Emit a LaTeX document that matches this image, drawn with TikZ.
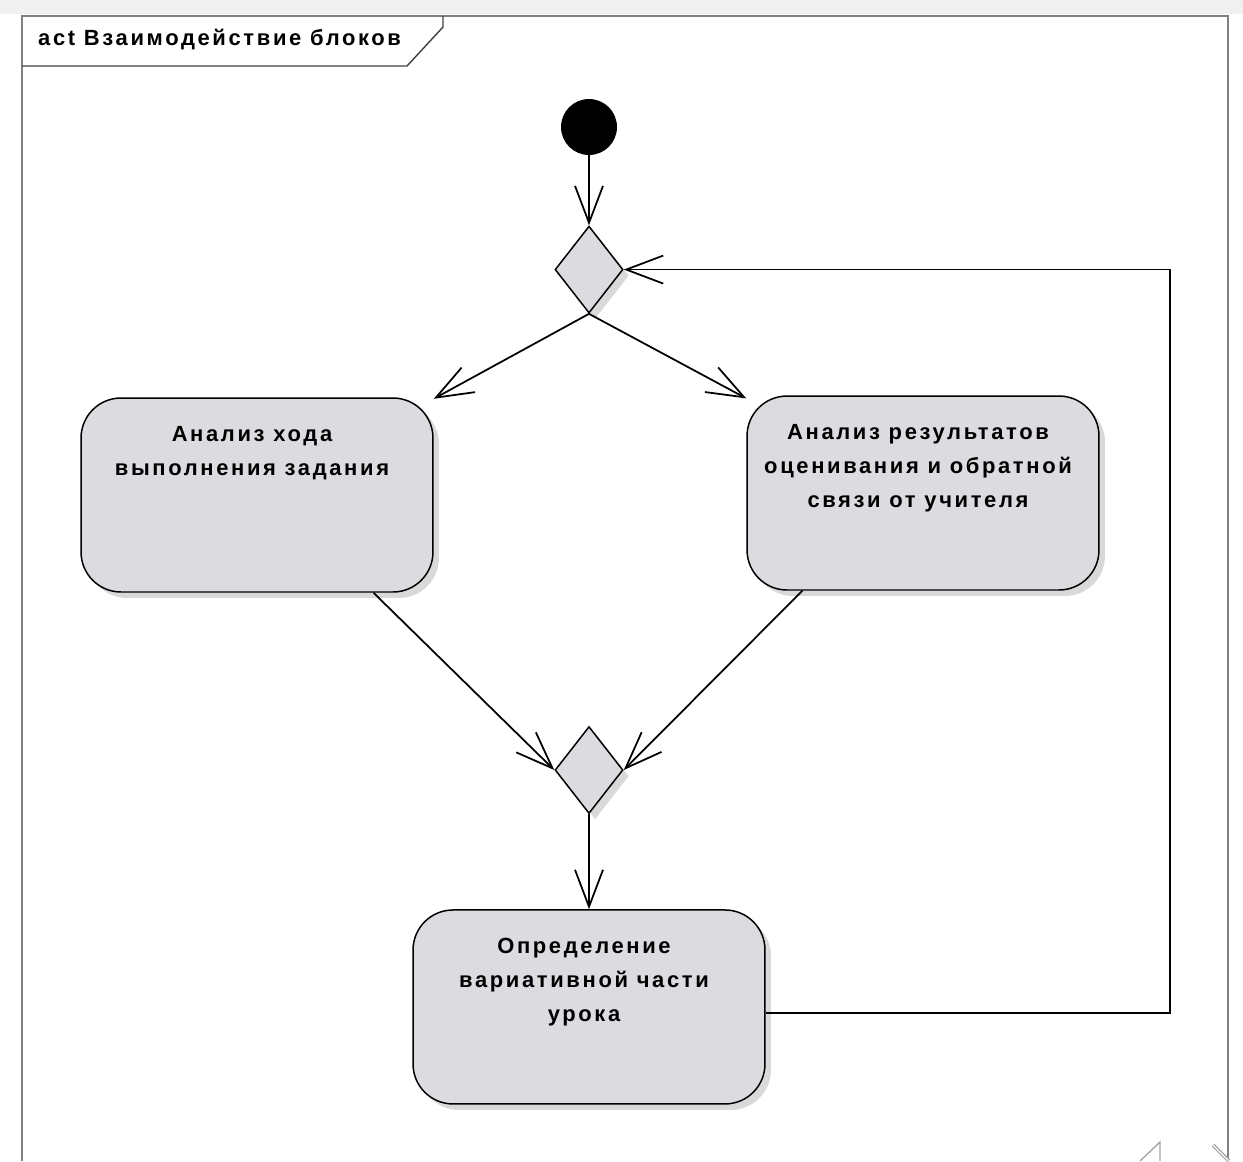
\documentclass[tikz,border=0pt]{standalone}
\usepackage{fontspec}
\setmainfont{Liberation Sans}[LetterSpace=12]
\usetikzlibrary{positioning,shapes.geometric,shadows,arrows.meta}
\definecolor{actgray}{RGB}{220,220,224}
\definecolor{framegray}{RGB}{128,128,128}
\tikzset{basic/.style={draw,line width=0.85pt,fill=actgray,drop shadow={shadow xshift=0.12cm,shadow yshift=-0.12cm,fill=black!15,opacity=1}}}
\tikzset{activity/.style={basic,rounded corners=0.8cm,minimum width=7.04cm,minimum height=3.88cm,inner sep=0pt,font=\bfseries\fontsize{12.5}{19.3}\selectfont}}
\tikzset{decision/.style={basic,diamond,minimum width=1.36cm,minimum height=1.74cm,inner sep=0pt}}
\tikzset{initial/.style={circle,fill=black,minimum size=1.12cm,inner sep=0pt}}
\tikzset{flow/.style={draw,line width=1pt,-{Straight Barb[length=0.74cm,width=0.56cm,line width=1pt]}}}
\newcommand{\acttext}[1]{\hspace*{-0.2cm}\parbox[c][2.74cm][t]{6.9cm}{\centering #1}}

\begin{document}
\begin{tikzpicture}[x=0.02cm,y=-0.02cm]
        \useasboundingbox (0,0) rectangle (1243,1161);
        \fill[black!6] (0,0) rectangle (1243,14);
        \draw[framegray,line width=1pt] (22,1161) -- (22,16) -- (1228,16) -- (1228,1161);
        \draw[black!75,line width=0.8pt] (22,66) -- (407,66) -- (443,27) -- (443,16);
        \node[anchor=west,font=\bfseries\fontsize{12.5}{15}\selectfont] (title) at (32,40) {act Взаимодействие блоков};
        \node[initial] (start) at (589,127) {};
        \node[decision,below=1.4cm of start] (fork) {};
            \path[flow] (start) -- (fork);
        \node[activity] (left) at (257,495) {\acttext{Анализ хода\\выполнения задания}};
        \node[activity] (right) at (923,493) {\acttext{Анализ результатов\\оценивания и обратной\\связи от учителя}};
            \path[flow] (fork.south) -- (left);
            \path[flow] (fork.south) -- (right);
        \node[decision] (join) at (589,770) {};
            \path[flow] (left.-40) -- (join.west);
            \path[flow] (right.-141) -- (join.east);
        \node[activity,below=1.9cm of join] (final) {\acttext{Определение\\вариативной части\\урока}};
            \path[flow] (join) -- (final);
        \coordinate (loop) at (1170,1013);
            \path[flow] (final.east |- loop) -- (loop) |- (fork.east);
        \draw[black!35,line width=0.8pt] (1140,1161) -- (1160,1142) -- (1160,1161);
        \draw[black!35,line width=0.8pt,double] (1213,1145) -- (1229,1161);
    \end{tikzpicture}
\end{document}
